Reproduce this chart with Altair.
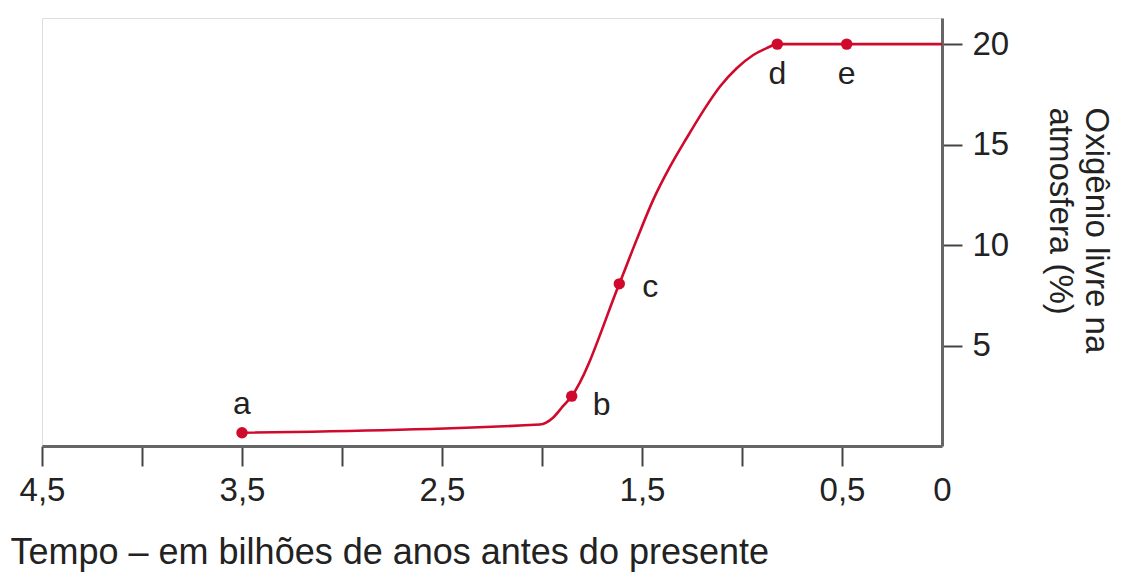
import altair as alt
import pandas as pd

# Curve (time in billions of years before present, free O2 %)
curve_x = [3.5, 2.01, 1.945, 1.895, 1.8515, 1.6135, 1.5265, 1.4435, 1.36, 1.2765,
           1.1935, 1.11, 1.0265, 0.9435, 0.8765, 0.8235, 0.4765, 0.0]
curve_y = [0.66, 1.07, 1.41, 1.98, 2.48, 8.07, 10.27, 12.26, 13.9, 15.33,
           16.68, 17.89, 18.80, 19.46, 19.80, 20.0, 20.0, 20.0]

# Marked points
pt_labels = ["a", "b", "c", "d", "e"]
pt_x = [3.5, 1.8515, 1.6135, 0.8235, 0.4765]
pt_y = [0.66, 2.48, 8.07, 20.0, 20.0]

x_ticks = [0, 0.5, 1, 1.5, 2, 2.5, 3, 3.5, 4, 4.5]
y_ticks = [5, 10, 15, 20]

RED = "#cf0a2c"
FONT = "Liberation Sans"

curve_df = pd.DataFrame({"t": curve_x, "o2": curve_y, "i": list(range(len(curve_x)))})
pts_df = pd.DataFrame({"t": pt_x, "o2": pt_y, "label": pt_labels})

x_enc = alt.X(
    "t:Q",
    scale=alt.Scale(domain=[0, 4.5], reverse=True, nice=False, zero=False),
    axis=alt.Axis(
        values=x_ticks,
        title="Tempo – em bilhões de anos antes do presente",
        titleFont=FONT, titleFontSize=36, titleFontWeight="normal", titleColor="#222",
        titleAlign="left", titleAnchor="start", titleX=-32, titleY=117,
        titleBaseline="alphabetic",
        labelFont=FONT, labelFontSize=33, labelColor="#222",
        labelBaseline="alphabetic", labelPadding=34,
        labelExpr="(datum.value == 4 || datum.value == 3 || datum.value == 2 || datum.value == 1) ? '' : (datum.value == 0 ? '0' : replace(format(datum.value, '.1f'), '.', ','))",
        labelFlush=False, labelOverlap=False,
        tickSize=20, tickWidth=2, tickColor="#444",
        tickOpacity=alt.ExprRef("datum.value == 0 ? 0 : 1"),
        domainColor="#666", domainWidth=3,
        grid=False,
    ),
)

y_enc = alt.Y(
    "o2:Q",
    scale=alt.Scale(domain=[0, 21.3], nice=False, zero=True),
    axis=alt.Axis(
        orient="right",
        values=y_ticks,
        title=["Oxigênio livre na", "atmosfera (%)"],
        titleFont=FONT, titleFontSize=33, titleFontWeight="normal", titleColor="#222",
        titleAngle=90, titleAlign="left", titleBaseline="alphabetic",
        titleX=143, titleY=89, titleLineHeight=36,
        labelFont=FONT, labelFontSize=33, labelColor="#222",
        labelAlign="left", labelBaseline="middle", labelPadding=10,
        tickSize=20, tickWidth=2, tickColor="#444",
        domainColor="#666", domainWidth=3,
        grid=False,
    ),
)

line = alt.Chart(curve_df).mark_line(
    color=RED, strokeWidth=2.6, interpolate="monotone"
).encode(x=x_enc, y=y_enc, order="i:Q")

points = alt.Chart(pts_df).mark_point(
    filled=True, color=RED, size=130, opacity=1
).encode(x="t:Q", y="o2:Q")

label_offsets = {
    "a": (0, -19),
    "b": (30, 19),
    "c": (31, 13),
    "d": (0, 40),
    "e": (0, 40),
}

text_layers = []
for lab in pt_labels:
    dx, dy = label_offsets[lab]
    text_layers.append(
        alt.Chart(pts_df).transform_filter(alt.datum.label == lab).mark_text(
            font=FONT, fontSize=32, color="#222", align="center",
            baseline="alphabetic", dx=dx, dy=dy
        ).encode(x="t:Q", y="o2:Q", text="label:N")
    )

chart = alt.layer(line, points, *text_layers).properties(
    width=900,
    height=428,
    autosize=alt.AutoSizeParams(type="none"),
    padding={"left": 34, "top": 10, "right": 174, "bottom": 126},
).configure_view(
    stroke="#444", strokeWidth=2
).configure(background="white")

chart.save("out.html", embed_options={"renderer": "svg", "actions": False})
